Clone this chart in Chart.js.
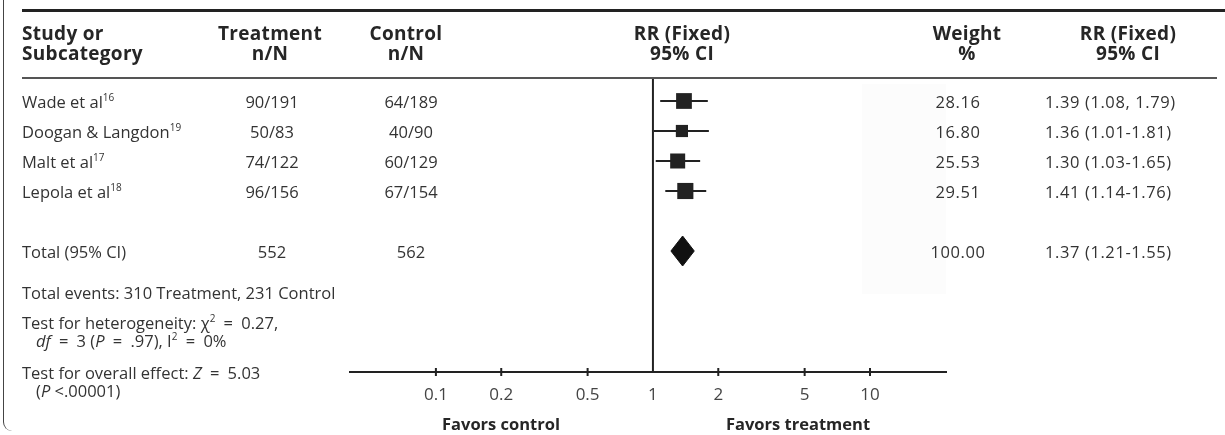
<!DOCTYPE html>
<html>
<head>
<meta charset="utf-8">
<script src="https://cdn.jsdelivr.net/npm/chart.js@4.4.1/dist/chart.umd.min.js"></script>
<style>
  html, body { margin: 0; padding: 0; background: #fff; }
  #wrap { position: relative; width: 1225px; height: 435px; overflow: hidden; font-family: "Open Sans", "Noto Sans", sans-serif; color: #333; }
  #plot { position: absolute; left: 0; top: 0; }
  .t { position: absolute; white-space: nowrap; font-size: 16.5px; line-height: 19px; transform: translateY(-50%); }
  .c { transform: translate(-50%, -50%); text-align: center; }
  .h { font-weight: 700; font-size: 19px; line-height: 21px; letter-spacing: 0.3px; color: #262626; }
  .f { font-weight: 700; font-size: 16.5px; color: #262626; }
  .n { letter-spacing: 0.6px; }
  sup { font-size: 10px; vertical-align: 7px; line-height: 0; }
  i { font-style: italic; }
  .rule { position: absolute; }
</style>
</head>
<body>
<div id="wrap">
  <div class="rule" style="left:3px;top:-6px;width:20px;height:437px;border-left:1.5px solid #444;border-bottom-left-radius:9px;"></div>
  <div class="rule" style="left:22px;top:9px;width:1203px;height:3px;background:#222;"></div>
  <div class="rule" style="left:22px;top:77px;width:1195px;height:1.5px;background:#555;"></div>
  <div class="rule" style="left:862px;top:84px;width:84px;height:210px;background:#fcfcfc;"></div>
  <canvas id="plot" width="1225" height="435"></canvas>
</div>
<script>
// ---- data ----
const studies = ["Wade et al", "Doogan & Langdon", "Malt et al", "Lepola et al"];
const studyRefs = ["16", "19", "17", "18"];
const treatmentN = ["90/191", "50/83", "74/122", "96/156"];
const controlN = ["64/189", "40/90", "60/129", "67/154"];
const rr = [1.39, 1.36, 1.30, 1.41];
const ciLow = [1.08, 1.01, 1.03, 1.14];
const ciHigh = [1.79, 1.81, 1.65, 1.76];
const weights = [28.16, 16.80, 25.53, 29.51];
const weightLabels = ["28.16", "16.80", "25.53", "29.51"];
const ciLabels = ["1.39 (1.08, 1.79)", "1.36 (1.01-1.81)", "1.30 (1.03-1.65)", "1.41 (1.14-1.76)"];
const totalLabel = "Total (95% CI)";
const totalTreatment = "552";
const totalControl = "562";
const totalWeight = "100.00";
const totalRR = 1.37;
const totalLow = 1.21;
const totalHigh = 1.55;
const totalCI = "1.37 (1.21-1.55)";
const xTicks = [0.1, 0.2, 0.5, 1, 2, 5, 10];
const rowPos = [0, 1, 2, 3];
const totalPos = 5;

// ---- chart ----
const yMin = -0.733, yMax = 9.033;
const datasets = [];
datasets.push({
  data: [{x: 1, y: yMin}, {x: 1, y: yMax}],
  showLine: true, borderColor: '#222', borderWidth: 2, pointRadius: 0
});
studies.forEach((s, i) => {
  datasets.push({
    data: [{x: ciLow[i], y: rowPos[i]}, {x: ciHigh[i], y: rowPos[i]}],
    showLine: true, borderColor: '#222', borderWidth: 2, pointRadius: 0
  });
});
datasets.push({
  data: rr.map((v, i) => ({x: v, y: rowPos[i]})),
  pointStyle: 'rect',
  pointRadius: weights.map(w => Math.sqrt(w) * 2.1),
  backgroundColor: '#222', borderWidth: 0
});
datasets.push({
  data: [
    {x: totalLow, y: totalPos}, {x: totalRR, y: totalPos - 0.5},
    {x: totalHigh, y: totalPos}, {x: totalRR, y: totalPos + 0.5},
    {x: totalLow, y: totalPos}
  ],
  showLine: true, fill: 'shape', borderColor: '#111', backgroundColor: '#111',
  borderWidth: 1, pointRadius: 0, tension: 0
});

const crossTicks = {
  id: 'crossTicks',
  afterDraw(chart) {
    const s = chart.scales.x, y = chart.chartArea.bottom, ctx = chart.ctx;
    ctx.save();
    ctx.strokeStyle = '#222';
    ctx.lineWidth = 2;
    s.ticks.forEach(t => {
      if (t.value === 1) return;
      const px = s.getPixelForValue(t.value);
      ctx.beginPath();
      ctx.moveTo(px, y - 4);
      ctx.lineTo(px, y + 4);
      ctx.stroke();
    });
    ctx.restore();
  }
};

const chart = new Chart(document.getElementById('plot'), {
  type: 'scatter',
  data: { datasets },
  options: {
    responsive: false,
    animation: false,
    devicePixelRatio: 1,
    layout: { padding: { left: 350, right: 279, top: 79, bottom: 23 } },
    plugins: { legend: { display: false }, tooltip: { enabled: false } },
    scales: {
      x: {
        type: 'logarithmic',
        min: 0.0402, max: 22.4,
        afterBuildTicks: s => { s.ticks = xTicks.map(v => ({ value: v })); },
        afterFit: s => { s.height = 40; },
        grid: { display: false },
        border: { display: true, color: '#222', width: 2 },
        ticks: {
          autoSkip: false, maxRotation: 0, padding: 5,
          color: '#444', font: { family: 'Open Sans', size: 17, weight: 400 },
          callback: v => String(v)
        }
      },
      y: { type: 'linear', min: yMin, max: yMax, reverse: true, display: false }
    }
  },
  plugins: [crossTicks]
});

// ---- text ----
const wrap = document.getElementById('wrap');
function addText(html, x, y, cls) {
  const d = document.createElement('div');
  d.className = 't' + (cls ? ' ' + cls : '');
  d.style.left = x + 'px';
  d.style.top = y + 'px';
  d.innerHTML = html;
  wrap.appendChild(d);
}
const esc = s => s.replace(/&/g, '&amp;');
const ys = chart.scales.y;

// headers
addText('Study or', 22, 33, 'h');
addText('Subcategory', 22, 53, 'h');
addText('Treatment', 270, 33, 'h c');
addText('n/N', 270, 53, 'h c');
addText('Control', 406, 33, 'h c');
addText('n/N', 406, 53, 'h c');
addText('RR (Fixed)', 682, 33, 'h c');
addText('95% CI', 682, 53, 'h c');
addText('Weight', 967, 33, 'h c');
addText('%', 967, 53, 'h c');
addText('RR (Fixed)', 1128, 33, 'h c');
addText('95% CI', 1128, 53, 'h c');

studies.forEach((s, i) => {
  const y = ys.getPixelForValue(rowPos[i]);
  addText(esc(s) + '<sup>' + studyRefs[i] + '</sup>', 22, y);
  addText(treatmentN[i], 272, y, 'c');
  addText(controlN[i], 411, y, 'c');
  addText(weightLabels[i], 958, y, 'c n');
  addText(ciLabels[i], 1045, y, 'n');
});
const ty = ys.getPixelForValue(totalPos);
addText(totalLabel, 22, ty);
addText(totalTreatment, 272, ty, 'c');
addText(totalControl, 411, ty, 'c');
addText(totalWeight, 958, ty, 'c n');
addText(totalCI, 1045, ty, 'n');

addText('Total events: 310 Treatment, 231 Control', 22, 292);
addText('Test for heterogeneity: &chi;<sup>2</sup>&ensp;=&ensp;0.27,', 22, 322);
addText('<i>df</i>&ensp;=&ensp;3 (<i>P</i>&ensp;=&ensp;.97), I<sup>2</sup>&ensp;=&ensp;0%', 36, 340);
addText('Test for overall effect: <i>Z</i>&ensp;=&ensp;5.03', 22, 372);
addText('(<i>P</i>&nbsp;&lt;.00001)', 36, 390);

addText('Favors control', 501, 423, 'f c');
addText('Favors treatment', 798, 423, 'f c');
</script>
</body>
</html>
